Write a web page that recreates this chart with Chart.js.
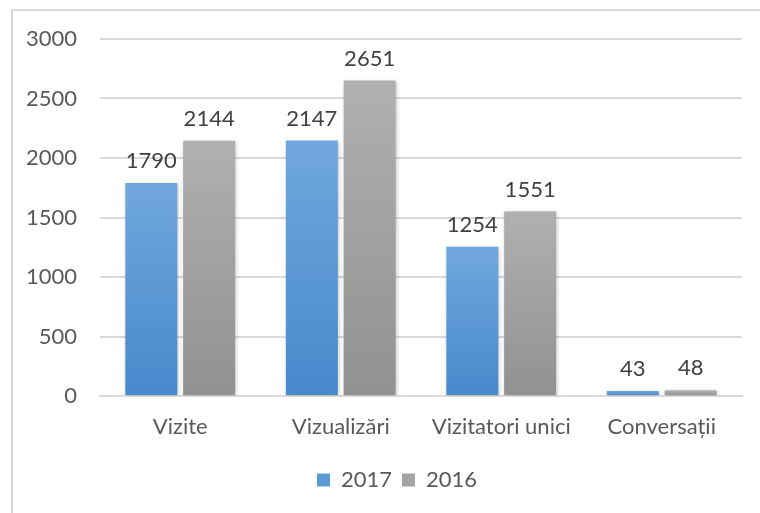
<!DOCTYPE html>
<html>
<head>
<meta charset="utf-8">
<script src="https://cdn.jsdelivr.net/npm/chart.js@4.4.0/dist/chart.umd.min.js"></script>
<style>
    html, body { margin: 0; padding: 0; background: #ffffff; }
    #wrap { position: relative; width: 760px; height: 513px; }
    #frame {
        position: absolute; left: 11px; top: 9px; width: 760px; height: 520px;
        border-top: 2px solid #d9d9d9; border-left: 2px solid #d9d9d9;
        box-sizing: border-box;
    }
    canvas { position: absolute; left: 0; top: 0; }
</style>
</head>
<body>
<div id="wrap">
    <div id="frame"></div>
    <canvas id="visitsChart" width="760" height="513"></canvas>
</div>
<script>
const categories = ["Vizite", "Vizualizări", "Vizitatori unici", "Conversații"];
const values2017 = [1790, 2147, 1254, 43];
const values2016 = [2144, 2651, 1551, 48];
const seriesNames = ["2017", "2016"];
const yTicks = [0, 500, 1000, 1500, 2000, 2500, 3000];

const FONT = "Lato, 'Open Sans', sans-serif";
const FONT_SIZE = 22;

function barGradient(top, bottom) {
    return function (context) {
        const chart = context.chart;
        const yScale = chart.scales.y;
        if (!chart.chartArea || !yScale || context.raw === undefined) return top;
        const y1 = yScale.getPixelForValue(context.raw);
        const y0 = yScale.getPixelForValue(0);
        if (!isFinite(y1) || !isFinite(y0) || y0 - y1 < 1) return top;
        const g = chart.ctx.createLinearGradient(0, y1, 0, y0);
        g.addColorStop(0, top);
        g.addColorStop(1, bottom);
        return g;
    };
}

const barShadow = {
    id: "barShadow",
    beforeDatasetsDraw(chart) {
        const ctx = chart.ctx;
        ctx.save();
        ctx.shadowColor = "rgba(0, 0, 0, 0.22)";
        ctx.shadowBlur = 4;
        ctx.shadowOffsetX = 1;
        ctx.shadowOffsetY = 1;
    },
    afterDatasetsDraw(chart) {
        chart.ctx.restore();
    }
};

const valueLabels = {
    id: "valueLabels",
    afterDatasetsDraw(chart) {
        const ctx = chart.ctx;
        ctx.save();
        ctx.font = FONT_SIZE + "px " + FONT;
        ctx.fillStyle = "#404040";
        ctx.textAlign = "center";
        ctx.textBaseline = "middle";
        chart.data.datasets.forEach((ds, i) => {
            chart.getDatasetMeta(i).data.forEach((bar, j) => {
                ctx.fillText(String(ds.data[j]), bar.x, bar.y - 22);
            });
        });
        ctx.restore();
    }
};

// legend sits a bit right of the canvas centre in the original
const legendShift = {
    id: "legendShift",
    afterLayout(chart) {
        if (chart.legend) {
            chart.legend.left += 26;
            chart.legend.right += 26;
        }
    }
};

new Chart(document.getElementById("visitsChart"), {
    type: "bar",
    data: {
        labels: categories,
        datasets: [{
            label: seriesNames[0],
            data: values2017,
            backgroundColor: barGradient("#70a7dd", "#4689cc"),
            legendColor: "#5b9bd5",
            categoryPercentage: 0.72,
            barPercentage: 0.9
        }, {
            label: seriesNames[1],
            data: values2016,
            backgroundColor: barGradient("#b0b0b0", "#919191"),
            legendColor: "#a5a5a5",
            categoryPercentage: 0.72,
            barPercentage: 0.9
        }]
    },
    options: {
        responsive: false,
        animation: false,
        layout: { padding: { left: 0, right: 18, top: 39, bottom: 12 } },
        plugins: {
            tooltip: { enabled: false },
            legend: {
                position: "bottom",
                labels: {
                    font: { family: FONT, size: FONT_SIZE },
                    color: "#595959",
                    boxWidth: 13,
                    boxHeight: 13,
                    padding: 10,
                    generateLabels(chart) {
                        return chart.data.datasets.map((ds, i) => ({
                            text: ds.label,
                            fillStyle: ds.legendColor,
                            strokeStyle: ds.legendColor,
                            lineWidth: 0,
                            fontColor: "#595959",
                            datasetIndex: i
                        }));
                    }
                }
            }
        },
        scales: {
            x: {
                grid: { display: false, drawTicks: false },
                border: { display: true, color: "#d9d9d9", width: 2 },
                ticks: {
                    font: { family: FONT, size: FONT_SIZE },
                    color: "#595959",
                    padding: 18,
                    maxRotation: 0
                },
                afterFit(scale) { scale.height = 63; }
            },
            y: {
                min: 0,
                max: 3000,
                afterBuildTicks(scale) {
                    scale.ticks = yTicks.map(v => ({ value: v }));
                },
                grid: { color: "#d9d9d9", lineWidth: 2, drawTicks: false },
                border: { display: false },
                ticks: {
                    font: { family: FONT, size: FONT_SIZE },
                    color: "#595959",
                    padding: 23,
                    callback: value => String(value)
                },
                afterFit(scale) { scale.width = 100; }
            }
        }
    },
    plugins: [barShadow, valueLabels, legendShift]
});
</script>
</body>
</html>
